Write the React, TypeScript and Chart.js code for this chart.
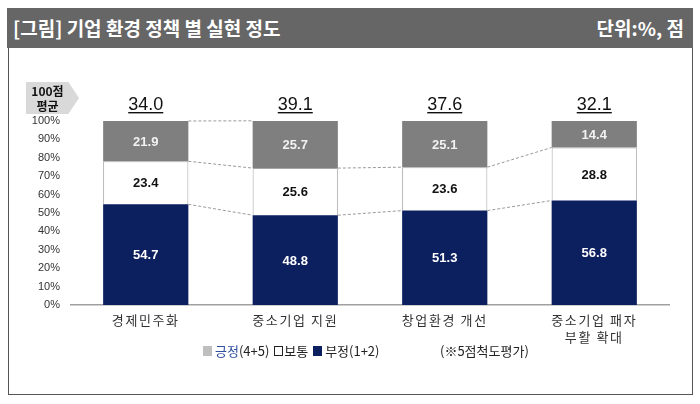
import React, { useEffect, useRef } from "react";
import { Chart, registerables } from "chart.js";

Chart.register(...registerables);

const categories: (string | string[])[] = ["경제민주화", "중소기업 지원", "창업환경 개선", ["중소기업 패자", "부활 확대"]];
const negativeValues = [54.7, 48.8, 51.3, 56.8];
const neutralValues = [23.4, 25.6, 23.6, 28.8];
const positiveValues = [21.9, 25.7, 25.1, 14.4];
const averageScores = [34.0, 39.1, 37.6, 32.1];
const seriesNames = ["부정(1+2)", "보통", "긍정(4+5)"];
// pairs of adjacent bars whose 100% top is joined by a series line
const topLinkPairs = [0];

const NAVY = "#0c1f5e";
const GRAY = "#7f7f7f";
const FONT = "'Liberation Sans', Arial, sans-serif";
const KFONT = "'Noto Sans CJK KR', 'Noto Sans', sans-serif";

const overlayPlugin = {
  id: "overlay",
  beforeDraw(chart: any) {
    chart.ctx.letterSpacing = "1.6px";
  },
  beforeDatasetsDraw(chart: any) {
    chart.ctx.letterSpacing = "0px";
  },
  afterDatasetsDraw(chart: any) {
    const ctx = chart.ctx;
    const yScale = chart.scales.y;
    const metas = [0, 1, 2].map((i) => chart.getDatasetMeta(i));
    ctx.save();
    ctx.letterSpacing = "0px";
    // series connector lines
    ctx.strokeStyle = "#9a9a9a";
    ctx.lineWidth = 1;
    ctx.setLineDash([3, 2]);
    const n = categories.length;
    for (let d = 0; d < 3; d++) {
      for (let i = 0; i < n - 1; i++) {
        if (d === 2 && !topLinkPairs.includes(i)) continue;
        const a = metas[d].data[i];
        const b = metas[d].data[i + 1];
        ctx.beginPath();
        ctx.moveTo(a.x + a.width / 2, a.y);
        ctx.lineTo(b.x - b.width / 2, b.y);
        ctx.stroke();
      }
    }
    ctx.setLineDash([]);
    // value labels inside segments
    ctx.textAlign = "center";
    ctx.textBaseline = "middle";
    ctx.font = `bold 13px ${FONT}`;
    const colors = ["#ffffff", "#111111", "#f2f2f2"];
    chart.data.datasets.forEach((ds: any, di: number) => {
      metas[di].data.forEach((bar: any, i: number) => {
        const v = ds.data[i];
        ctx.fillStyle = colors[di];
        ctx.fillText(v.toFixed(1), bar.x, (bar.y + bar.base) / 2 + 1);
      });
    });
    // average scores above bars
    ctx.font = `18px ${FONT}`;
    ctx.fillStyle = "#111";
    ctx.textBaseline = "alphabetic";
    const top = yScale.getPixelForValue(100);
    metas[0].data.forEach((bar: any, i: number) => {
      const t = averageScores[i].toFixed(1);
      const ty = top - 11;
      ctx.fillText(t, bar.x, ty);
      const w = ctx.measureText(t).width;
      ctx.fillRect(bar.x - w / 2, ty + 2, w, 1.4);
    });
    ctx.restore();
  },
};

export default function App() {
  const ref = useRef<HTMLCanvasElement>(null);
  useEffect(() => {
    document.body.style.margin = "0";
    const chart = new Chart(ref.current as HTMLCanvasElement, {
      type: "bar",
      data: {
        labels: categories,
        datasets: [
          { label: seriesNames[0], data: negativeValues, backgroundColor: NAVY, borderWidth: 0 },
          { label: seriesNames[1], data: neutralValues, backgroundColor: "#ffffff", borderColor: "#a6a6a6", borderWidth: 1 },
          { label: seriesNames[2], data: positiveValues, backgroundColor: GRAY, borderWidth: 0 },
        ],
      },
      options: {
        responsive: false,
        animation: false,
        layout: { padding: { left: 0, right: 31, top: 121, bottom: 0 } },
        datasets: { bar: { barPercentage: 0.57, categoryPercentage: 1 } },
        plugins: { legend: { display: false }, tooltip: { enabled: false } },
        scales: {
          x: {
            stacked: true,
            grid: { display: false, drawTicks: false },
            border: { display: true, color: "#a0a0a0", width: 1.5 },
            ticks: { color: "#333", font: { family: KFONT, size: 13, lineHeight: 1.35 }, padding: 6, maxRotation: 0 },
            afterFit: (s: any) => { s.height = 99; },
          },
          y: {
            stacked: true,
            min: 0,
            max: 100,
            z: 1,
            grid: { display: false, drawTicks: false },
            border: { display: false },
            ticks: { z: 1, stepSize: 10, color: "#333", font: { family: FONT, size: 11 }, padding: 11, callback: (v: any) => `${v}%` },
            afterFit: (s: any) => { s.width = 71; },
          },
        },
      },
      plugins: [overlayPlugin],
    });
    return () => chart.destroy();
  }, []);

  return (
    <div style={{ position: "relative", width: 700, height: 404, background: "#fff", overflow: "hidden" }}>
      <div style={{ position: "absolute", left: 7, top: 8, width: 686, height: 40, background: "#666666" }} />
      <div style={{ position: "absolute", left: 13, top: 8, height: 40, lineHeight: "40px", color: "#fff", fontFamily: KFONT, fontWeight: 700, fontSize: 19 }}>
        [그림] 기업 환경 정책 별 실현 정도
      </div>
      <div style={{ position: "absolute", right: 16, top: 8, height: 40, lineHeight: "40px", color: "#fff", fontFamily: KFONT, fontWeight: 700, fontSize: 19 }}>
        단위:%, 점
      </div>
      <div style={{ position: "absolute", left: 8, top: 48, width: 683, height: 346, border: "1px solid #555", borderTop: "none" }} />
      <canvas ref={ref} width={700} height={404} style={{ position: "absolute", left: 0, top: 0 }} />
      <div style={{ position: "absolute", left: 26, top: 82, width: 53, height: 32, background: "#d9d9d9", clipPath: "polygon(0 0, 80% 0, 100% 50%, 80% 100%, 0 100%)" }} />
      <div style={{ position: "absolute", left: 26, top: 83, width: 43, textAlign: "center", fontFamily: KFONT, fontWeight: 700, fontSize: 12, lineHeight: "15px", color: "#111" }}>
        100점<br />평균
      </div>
      <div style={{ position: "absolute", left: 203, top: 342, fontFamily: KFONT, fontSize: 13, color: "#222", whiteSpace: "nowrap", lineHeight: "18px" }}>
        <span style={{ display: "inline-block", width: 9, height: 10, background: "#bfbfbf", marginRight: 3 }} />
        <span style={{ color: "#2f4f9f" }}>긍정</span>(4+5){" "}
        <span style={{ display: "inline-block", width: 9, height: 10, border: "1px solid #222", boxSizing: "border-box", marginLeft: 2, marginRight: 1 }} />보통{" "}
        <span style={{ display: "inline-block", width: 9, height: 10, background: NAVY, marginLeft: 2, marginRight: 3 }} />부정(1+2)
      </div>
      <div style={{ position: "absolute", left: 440, top: 342, fontFamily: KFONT, fontSize: 13, color: "#222", whiteSpace: "nowrap", lineHeight: "18px" }}>
        (※5점척도평가)
      </div>
    </div>
  );
}
